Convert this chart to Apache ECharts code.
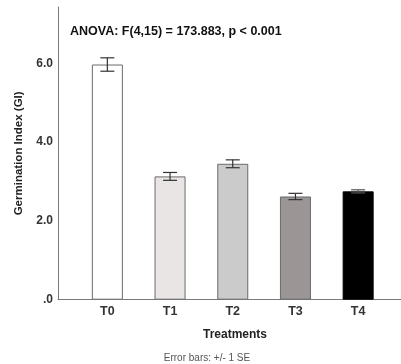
<!DOCTYPE html>
<html>
<head>
<meta charset="utf-8">
<script src="https://cdn.jsdelivr.net/npm/echarts@6/dist/echarts.min.js"></script>
<style>
  html, body { margin: 0; padding: 0; background: #fff; }
  #chart { width: 401px; height: 364px; }
</style>
</head>
<body>
<div id="chart"></div>
<script>
// Germination index by treatment, mean with +/- 1 SE
const treatments = ['T0', 'T1', 'T2', 'T3', 'T4'];
const meanGI = [5.97, 3.13, 3.45, 2.62, 2.75];
const seGI = [0.17, 0.10, 0.10, 0.08, 0.04];
const barColors = ['#ffffff', '#e9e5e5', '#cbcbcb', '#9b9695', '#000000'];
const yTicks = [0, 2, 4, 6];
const yTickLabels = ['.0', '2.0', '4.0', '6.0'];

const Y_MAX = 7.43;
const FONT = 'Liberation Sans, Arial, sans-serif';

const chart = echarts.init(document.getElementById('chart'), null, { renderer: 'canvas' });

const option = {
  animation: false,
  backgroundColor: '#ffffff',
  title: [
    {
      text: 'ANOVA: F(4,15) = 173.883, p < 0.001',
      left: 70, top: 25, padding: 0,
      textStyle: { fontFamily: FONT, fontSize: 12.5, fontWeight: 'bold', color: '#111' }
    },
    {
      text: 'Treatments',
      left: 235, top: 329, textAlign: 'center', padding: 0,
      textStyle: { fontFamily: FONT, fontSize: 12, fontWeight: 'bold', color: '#222' }
    },
    {
      text: 'Error bars: +/- 1 SE',
      left: 207, top: 353.5, textAlign: 'center', padding: 0,
      textStyle: { fontFamily: FONT, fontSize: 10, fontWeight: 'normal', color: '#555' }
    }
  ],
  grid: [
    // frame grid: carries the axis lines and value labels
    { left: 58, right: 0, top: 7, bottom: 64.3 },
    // plotting grid: category bands for the bars
    { left: 76, width: 313.5, top: 7, bottom: 64.3 }
  ],
  xAxis: [
    {
      gridIndex: 0, type: 'value', min: 0, max: 1,
      axisLine: { show: true, lineStyle: { color: '#7a7a7a', width: 1 } },
      axisTick: { show: false }, axisLabel: { show: false }, splitLine: { show: false }
    },
    {
      gridIndex: 1, type: 'category', data: treatments,
      axisLine: { show: false }, axisTick: { show: false }, splitLine: { show: false },
      axisLabel: {
        margin: 5, fontFamily: FONT, fontSize: 12.5, fontWeight: 'bold', color: '#333'
      }
    }
  ],
  yAxis: [
    {
      gridIndex: 0, type: 'value', min: 0, max: Y_MAX, interval: 2,
      name: 'Germination Index (GI)', nameLocation: 'middle', nameGap: 33,
      nameRotate: 90,
      nameTextStyle: { fontFamily: FONT, fontSize: 11.5, fontWeight: 'bold', color: '#222' },
      axisLine: { show: true, lineStyle: { color: '#7a7a7a', width: 1 } },
      axisTick: { show: false }, splitLine: { show: false },
      axisLabel: {
        margin: 5, showMaxLabel: false,
        fontFamily: FONT, fontSize: 12, fontWeight: 'bold', color: '#333',
        formatter: function (v) {
          const i = yTicks.indexOf(v);
          return i >= 0 ? yTickLabels[i] : '';
        }
      }
    },
    {
      gridIndex: 1, type: 'value', min: 0, max: Y_MAX,
      show: false
    }
  ],
  series: [
    {
      type: 'bar', xAxisIndex: 1, yAxisIndex: 1,
      barWidth: 31,
      data: meanGI.map((v, i) => ({
        value: v,
        itemStyle: {
          color: barColors[i],
          borderColor: i === 4 ? '#000' : '#6a6a6a',
          borderWidth: 1
        }
      }))
    },
    {
      type: 'custom', xAxisIndex: 1, yAxisIndex: 1, z: 5,
      data: meanGI.map((v, i) => [i, v - seGI[i], v + seGI[i]]),
      renderItem: function (params, api) {
        const lo = api.coord([api.value(0), api.value(1)]);
        const hi = api.coord([api.value(0), api.value(2)]);
        const half = 7;
        const c = params.dataIndex === 4 ? '#555' : '#333';
        const st = { stroke: c, lineWidth: 1.2 };
        return {
          type: 'group',
          children: [
            { type: 'line', shape: { x1: hi[0], y1: hi[1], x2: lo[0], y2: lo[1] }, style: st },
            { type: 'line', shape: { x1: hi[0] - half, y1: hi[1], x2: hi[0] + half, y2: hi[1] }, style: st },
            { type: 'line', shape: { x1: lo[0] - half, y1: lo[1], x2: lo[0] + half, y2: lo[1] }, style: st }
          ]
        };
      }
    }
  ]
};

chart.setOption(option);
</script>
</body>
</html>
